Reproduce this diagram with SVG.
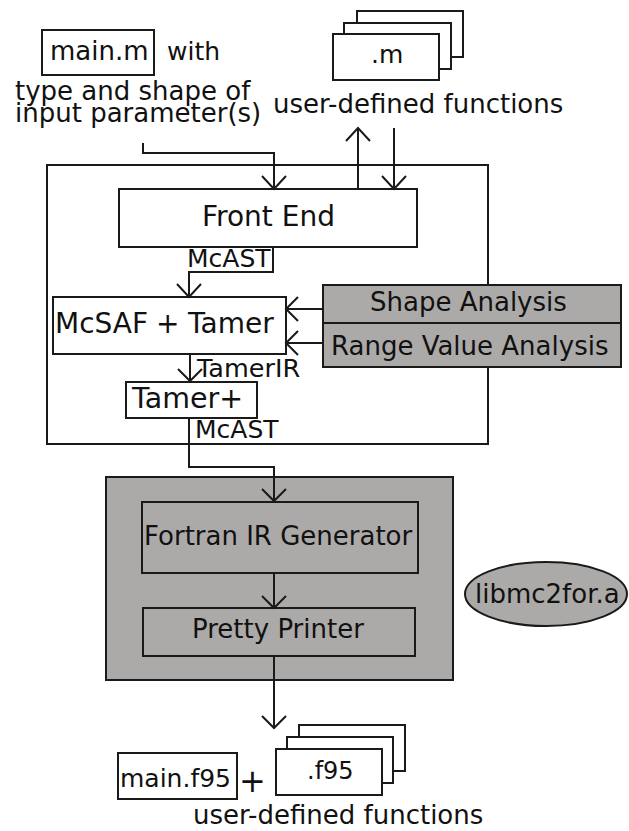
<svg xmlns="http://www.w3.org/2000/svg" width="629" height="831" viewBox="0 0 629 831">
<style>
.b{fill:#fff;stroke:#1a1a1a;stroke-width:2}
.g{fill:#acaaa8;stroke:#1a1a1a;stroke-width:2}
.c{fill:none;stroke:#1a1a1a;stroke-width:2}
text{font-family:"DejaVu Sans","Liberation Sans",sans-serif;fill:#111}
</style>
<rect width="629" height="831" fill="#fff"/>
<g id="main-m">
<rect class="b" x="42" y="30" width="112" height="45"/>
<text x="50" y="60" font-size="26">main.m</text>
<text x="167" y="60" font-size="25">with</text>
</g>
<g id="input-label">
<text x="15" y="100" font-size="26">type and shape of</text>
<text x="15" y="122" font-size="26">input parameter(s)</text>
</g>
<g id="m-files">
<rect class="b" x="357" y="11" width="106" height="46"/>
<rect class="b" x="344" y="23" width="107" height="46"/>
<rect class="b" x="333" y="34" width="106" height="46"/>
<text x="371" y="63" font-size="25">.m</text>
<text x="273" y="113" font-size="26">user-defined functions</text>
</g>
<g id="outer">
<rect class="b" x="47" y="165" width="441" height="279" fill="none"/>
</g>
<g id="front-end">
<rect class="b" x="119" y="189" width="298" height="58"/>
<text x="202" y="226" font-size="28">Front End</text>
</g>
<g id="mcsaf">
<rect class="b" x="53" y="297" width="233" height="57"/>
<text y="333" font-size="28"><tspan x="55">McSAF</tspan><tspan x="156">+</tspan><tspan x="188">Tamer</tspan></text>
</g>
<g id="analyses">
<rect class="g" x="323" y="285" width="298" height="38"/>
<rect class="g" x="323" y="323" width="298" height="44"/>
<text x="370" y="311" font-size="26">Shape Analysis</text>
<text x="331" y="355" font-size="26">Range Value Analysis</text>
</g>
<g id="tamer-plus">
<rect class="b" x="126" y="382" width="131" height="36"/>
<text x="132" y="408" font-size="28.5">Tamer+</text>
</g>
<g id="backend">
<rect class="g" x="106" y="477" width="347" height="203"/>
</g>
<g id="fortran-ir">
<rect class="g" x="142" y="502" width="276" height="71"/>
<text x="144" y="545" font-size="26">Fortran IR Generator</text>
</g>
<g id="pretty-printer">
<rect class="g" x="143" y="608" width="272" height="48"/>
<text x="192" y="638" font-size="26">Pretty Printer</text>
</g>
<g id="lib">
<ellipse class="g" cx="546" cy="594" rx="81" ry="32"/>
<text x="475" y="603" font-size="26">libmc2for.a</text>
</g>
<g id="main-f95">
<rect class="b" x="118" y="753" width="119" height="46"/>
<text x="120" y="787" font-size="25">main.f95</text>
<text x="239" y="792" font-size="32">+</text>
</g>
<g id="f95-files">
<rect class="b" x="299" y="725" width="106" height="46"/>
<rect class="b" x="287" y="737" width="106" height="46"/>
<rect class="b" x="276" y="749" width="106" height="46"/>
<text x="307" y="779" font-size="24">.f95</text>
<text x="193" y="824" font-size="26">user-defined functions</text>
</g>
<g id="connectors" class="c">
<path class="c" d="M143,143 V153 H274 V189 M262,176 L274,189 L286,176"/>
<path class="c" d="M358,189 V128 M346,141 L358,128 L370,141"/>
<path class="c" d="M394,128 V189 M382,176 L394,189 L406,176"/>
<path class="c" d="M273,247 V272 H189 V297 M177,284 L189,297 L201,284"/>
<path class="c" d="M323,309 H286 M298,297 L286,309 L298,321"/>
<path class="c" d="M323,343 H286 M298,331 L286,343 L298,355"/>
<path class="c" d="M190,354 V381 M178,369 L190,381 L202,369"/>
<path class="c" d="M189,418 V467 H274 V501 M262,489 L274,501 L286,489"/>
<path class="c" d="M274,573 V608 M262,596 L274,608 L286,596"/>
<path class="c" d="M274,656 V728 M262,716 L274,728 L286,716"/>
</g>
<text x="187" y="267" font-size="25">McAST</text>
<text x="197" y="377" font-size="25.5">TamerIR</text>
<text x="195" y="438" font-size="25">McAST</text>
</svg>
